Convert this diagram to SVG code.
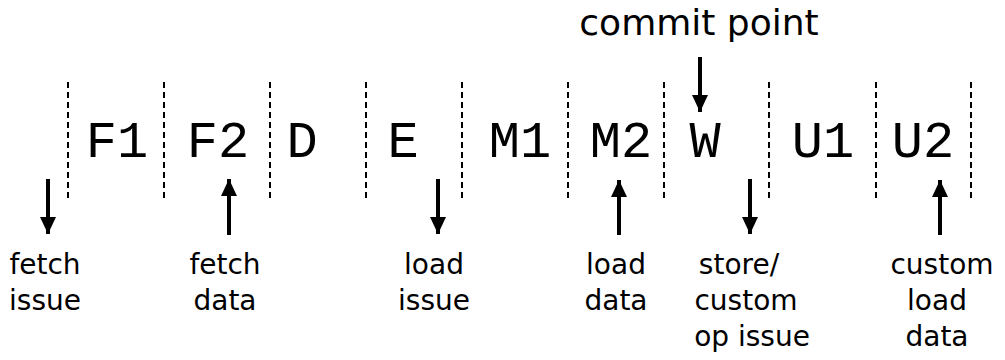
<svg xmlns="http://www.w3.org/2000/svg" width="1005" height="360" viewBox="0 0 1005 360">
  <style>
    .stage { font-family: "Liberation Mono", "Courier New", monospace; font-size: 52px; fill: #000; text-anchor: middle; }
    .label { font-family: "DejaVu Sans", "Liberation Sans", sans-serif; font-size: 28px; fill: #000; text-anchor: middle; }
    .title { font-family: "DejaVu Sans", "Liberation Sans", sans-serif; font-size: 36px; fill: #000; text-anchor: middle; }
    .divider { stroke: #000; stroke-width: 2; stroke-dasharray: 6 4; fill: none; }
    .arrow { stroke: #000; stroke-width: 4; fill: none; marker-end: url(#head); }
  </style>
  <defs>
    <marker id="head" markerUnits="userSpaceOnUse" markerWidth="18" markerHeight="18" viewBox="0 0 18 16" refX="17" refY="8" orient="auto">
      <path d="M0,0 L17,8 L0,16 Z" fill="#000"/>
    </marker>
  </defs>

  <rect width="1005" height="360" fill="#fff"/>

  <!-- stage boundaries -->
  <g id="dividers">
    <line class="divider" x1="68" y1="82" x2="68" y2="198"/>
    <line class="divider" x1="164" y1="82" x2="164" y2="198"/>
    <line class="divider" x1="270" y1="82" x2="270" y2="198"/>
    <line class="divider" x1="366" y1="82" x2="366" y2="198"/>
    <line class="divider" x1="462" y1="82" x2="462" y2="198"/>
    <line class="divider" x1="568" y1="82" x2="568" y2="198"/>
    <line class="divider" x1="664" y1="82" x2="664" y2="198"/>
    <line class="divider" x1="769" y1="82" x2="769" y2="198"/>
    <line class="divider" x1="876" y1="82" x2="876" y2="198"/>
    <line class="divider" x1="971" y1="82" x2="971" y2="198"/>
  </g>

  <!-- pipeline stages -->
  <g id="stage-F1"><text class="stage" x="117" y="157">F1</text></g>
  <g id="stage-F2"><text class="stage" x="218" y="157">F2</text></g>
  <g id="stage-D"><text class="stage" x="302" y="157">D</text></g>
  <g id="stage-E"><text class="stage" x="403" y="157">E</text></g>
  <g id="stage-M1"><text class="stage" x="520" y="157">M1</text></g>
  <g id="stage-M2"><text class="stage" x="621" y="157">M2</text></g>
  <g id="stage-W"><text class="stage" x="705" y="157">W</text></g>
  <g id="stage-U1"><text class="stage" x="823" y="157">U1</text></g>
  <g id="stage-U2"><text class="stage" x="923" y="157">U2</text></g>

  <!-- event labels -->
  <g id="commit-point"><text class="title" x="699" y="35">commit point</text></g>
  <g id="fetch-issue">
    <text class="label" x="45" y="274">fetch</text>
    <text class="label" x="45" y="310">issue</text>
  </g>
  <g id="fetch-data">
    <text class="label" x="225" y="274">fetch</text>
    <text class="label" x="225" y="310">data</text>
  </g>
  <g id="load-issue">
    <text class="label" x="434" y="274">load</text>
    <text class="label" x="434" y="310">issue</text>
  </g>
  <g id="load-data">
    <text class="label" x="616" y="274">load</text>
    <text class="label" x="616" y="310">data</text>
  </g>
  <g id="store-issue">
    <text class="label" x="739" y="274">store/</text>
    <text class="label" x="746" y="310">custom</text>
    <text class="label" x="752" y="346">op issue</text>
  </g>
  <g id="custom-load-data">
    <text class="label" x="942" y="274">custom</text>
    <text class="label" x="937" y="310">load</text>
    <text class="label" x="937" y="346">data</text>
  </g>

  <!-- arrows -->
  <g id="connectors">
    <line class="arrow" x1="700" y1="57" x2="700" y2="112"/>
    <line class="arrow" x1="48" y1="179" x2="48" y2="234"/>
    <line class="arrow" x1="229" y1="235" x2="229" y2="179"/>
    <line class="arrow" x1="438" y1="179" x2="438" y2="234"/>
    <line class="arrow" x1="619" y1="235" x2="619" y2="180"/>
    <line class="arrow" x1="750" y1="179" x2="750" y2="234"/>
    <line class="arrow" x1="940" y1="235" x2="940" y2="180"/>
  </g>
</svg>
